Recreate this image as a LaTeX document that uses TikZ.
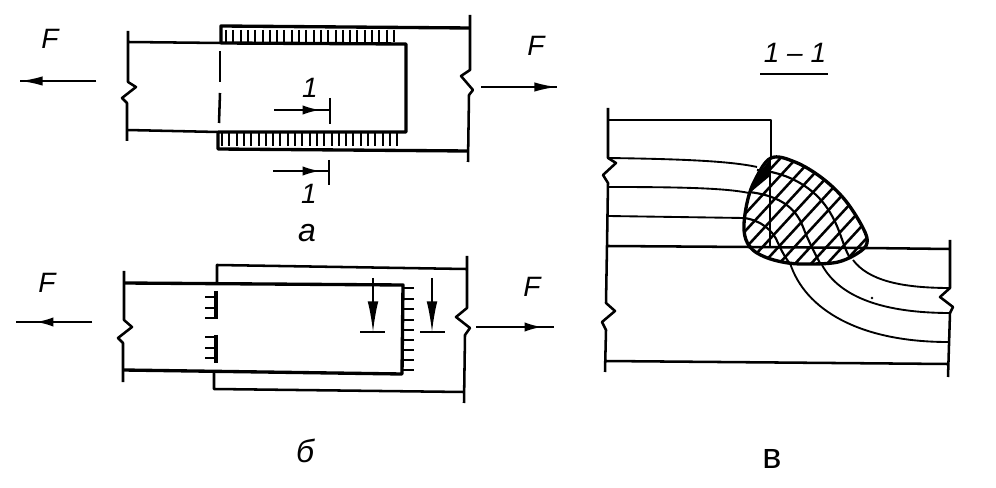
\documentclass[tikz,border=0pt]{standalone}
\usepackage{fontspec}
\setmainfont{Liberation Sans}
\usetikzlibrary{arrows.meta}

\begin{document}
\begin{tikzpicture}[%
    x = 0.75pt,
    y = -0.75pt,
    line join = round,
    plate/.style = { line width = 1.9pt },
    weld/.style = { line width = 2.5pt },
    thinline/.style = { line width = 1.4pt },
    tick/.style = { line width = 1.5pt },
    force/.style = { line width = 1.5pt },
    forcehead/.style = { -{Latex[length=17pt,width=7pt]}, line width = 1.5pt },
    sechead/.style = { -{Latex[length=13pt,width=7pt]}, line width = 1.5pt },
    longhead/.style = { -{Latex[length=23pt,width=8pt]}, line width = 1.2pt },
    label/.style = { font = \fontsize{21}{23}\selectfont\itshape, inner sep = 0pt },
    caption/.style = { font = \fontsize{24}{26}\selectfont\itshape, inner sep = 0pt }
  ]

\useasboundingbox (0,0) rectangle (996,488);

% a
\draw[plate] (128,31) -- (128,82) -- (136,87) -- (122,98) -- (127,103) -- (127,141);
\draw[plate] (128,42) -- (221,43);
\draw[plate] (127,130) -- (218,132);
\draw[weld] (221,43) -- (406,44) -- (406,132) -- (218,132);
\draw[weld] (221,43) -- (221,26) -- (470,28);
\draw[weld] (218,132) -- (218,149) -- (468,151);
\draw[plate] (470,15) -- (470,70) -- (461,76) -- (473,90) -- (469,95) -- (468,162);
\draw[plate] (220,51) -- (220,82);
\draw[plate] (220,93) -- (219,123);
\foreach \x in {226,233.3,...,401}
  \draw[tick] (\x,30) -- (\x,42);
\foreach \x in {222,229.3,...,401}
  \draw[tick] (\x,133) -- (\x,146);

\node[label] (Fa) at (50,39) {F};
\node[label] (Fb) at (536,46) {F};
\coordinate (fa1) at (96,81);
\coordinate (fa2) at (20,81);
\coordinate (fb1) at (481,87);
\coordinate (fb2) at (557,87);
\draw[force] (fa1) -- (fa2);
\draw[forcehead] (fa1) -- (fa2);
\draw[force] (fb1) -- (fb2);
\draw[forcehead] (fb1) -- (fb2);

\node[label] (sa) at (310,88) {1};
\node[label] (sb) at (309,194) {1};
\coordinate (sa1) at (274,110);
\coordinate (sa2) at (330,110);
\coordinate (sat) at (320,110);
\coordinate (sb1) at (273,171);
\coordinate (sb2) at (329,171);
\coordinate (sbt) at (320,171);
\draw[force] (sa1) -- (sa2);
\draw[sechead] (sa1) -- (sat);
\draw[plate] (330,98) -- (330,124);
\draw[force] (sb1) -- (sb2);
\draw[sechead] (sb1) -- (sbt);
\draw[plate] (329,160) -- (329,185);
\node[caption] (capa) at (307,233) {а};

% b
\draw[plate] (124,271) -- (124,320) -- (132,327) -- (118,338) -- (123,343) -- (123,382);
\draw[weld] (124,283) -- (403,285) -- (402,374) -- (123,370);
\draw[plate] (217,283) -- (217,265) -- (466,269);
\draw[plate] (214,372) -- (214,389) -- (464,392);
\draw[plate] (467,256) -- (467,308) -- (456,317) -- (470,328) -- (465,335) -- (464,403);
\draw[weld] (216,291) -- (216,319);
\draw[weld] (216,335) -- (216,363);
\foreach \y in {297,308,318,337,348,358}
  \draw[tick] (205,\y) -- (216,\y);
\foreach \y in {288,299,309,320,330,340,350,360,370}
  \draw[tick] (402,\y) -- (414,\y);

\coordinate (ta1) at (373,278);
\coordinate (ta2) at (373,332);
\coordinate (tb1) at (432,278);
\coordinate (tb2) at (432,332);
\draw[longhead] (ta1) -- (ta2);
\draw[plate] (360,332) -- (385,332);
\draw[longhead] (tb1) -- (tb2);
\draw[plate] (420,332) -- (445,332);

\node[label] (Fc) at (47,283) {F};
\node[label] (Fd) at (532,287) {F};
\coordinate (fc1) at (92,322);
\coordinate (fc2) at (16,322);
\coordinate (fct) at (36,322);
\coordinate (fd1) at (476,327);
\coordinate (fd2) at (554,327);
\coordinate (fdt) at (542,327);
\draw[force] (fc1) -- (fc2);
\draw[sechead] (fc1) -- (fct);
\draw[force] (fd1) -- (fd2);
\draw[sechead] (fd1) -- (fdt);
\node[caption] (capb) at (305,451) {б};

% 1-1
\node[label] (sec) at (795,53) {1 – 1};
\draw[thinline] (760,74) -- (828,74);

\draw[plate] (608,108) -- (608,158) -- (616,163) -- (603,175) -- (608,183) -- (607,246)
  -- (606,303) -- (615,311) -- (602,322) -- (606,330) -- (605,372);
\draw[plate] (608,120) -- (771,120) -- (771,158);
\draw[plate] (607,246) -- (750,247);
\draw[plate] (867,248) -- (950,249);
\draw[plate] (950,240) -- (950,288) -- (940,297) -- (953,307) -- (950,313) -- (948,377);
\draw[plate] (605,361) -- (948,364);

\draw[thinline] (608,158) .. controls (680,159) and (730,161) .. (757,167);
\draw[thinline] (608,187) .. controls (680,187) and (725,188) .. (749,193);
\draw[thinline] (608,216) -- (744,218);
\draw[thinline] (853,260) .. controls (868,280) and (900,288) .. (950,288);
\draw[thinline] (822,265) .. controls (840,298) and (885,313) .. (950,313);
\draw[thinline] (790,263) .. controls (805,310) and (860,342) .. (948,342);

\begin{scope}
  \clip plot[smooth cycle, tension=0.6] coordinates {(771,158) (795,162) (822,178) (845,200) (863,228)
    (867,243) (858,253) (838,262) (812,264) (788,263) (765,257) (750,247) (744,230) (747,203) (755,180)};
  \foreach \x in {740,756,...,1040}
    \draw[line width = 1.9pt] (\x,150) -- (\x-120,280);
\end{scope}

\draw[line width = 1.6pt] (770,157) -- (770,247);
\draw[plate] (750,247) -- (867,248);
\draw[line width = 1.6pt] (757,170) .. controls (785,172) and (810,185) .. (825,205)
  .. controls (840,225) and (842,245) .. (850,258);
\draw[line width = 1.6pt] (749,192) .. controls (775,195) and (795,205) .. (803,227)
  .. controls (808,240) and (814,252) .. (821,265);
\draw[line width = 1.6pt] (744,218) .. controls (760,220) and (773,230) .. (778,243)
  .. controls (781,250) and (785,257) .. (790,264);
\draw[weld] plot[smooth cycle, tension=0.6] coordinates {(771,158) (795,162) (822,178) (845,200) (863,228)
  (867,243) (858,253) (838,262) (812,264) (788,263) (765,257) (750,247) (744,230) (747,203) (755,180)};
\fill (771,158) -- (770,176) -- (752,191) -- (757,176) -- cycle;
\fill (872,298) circle (1pt);

\node[font = \fontsize{27}{29}\selectfont, inner sep = 0pt] (capc) at (772,459) {в};

\end{tikzpicture}
\end{document}
